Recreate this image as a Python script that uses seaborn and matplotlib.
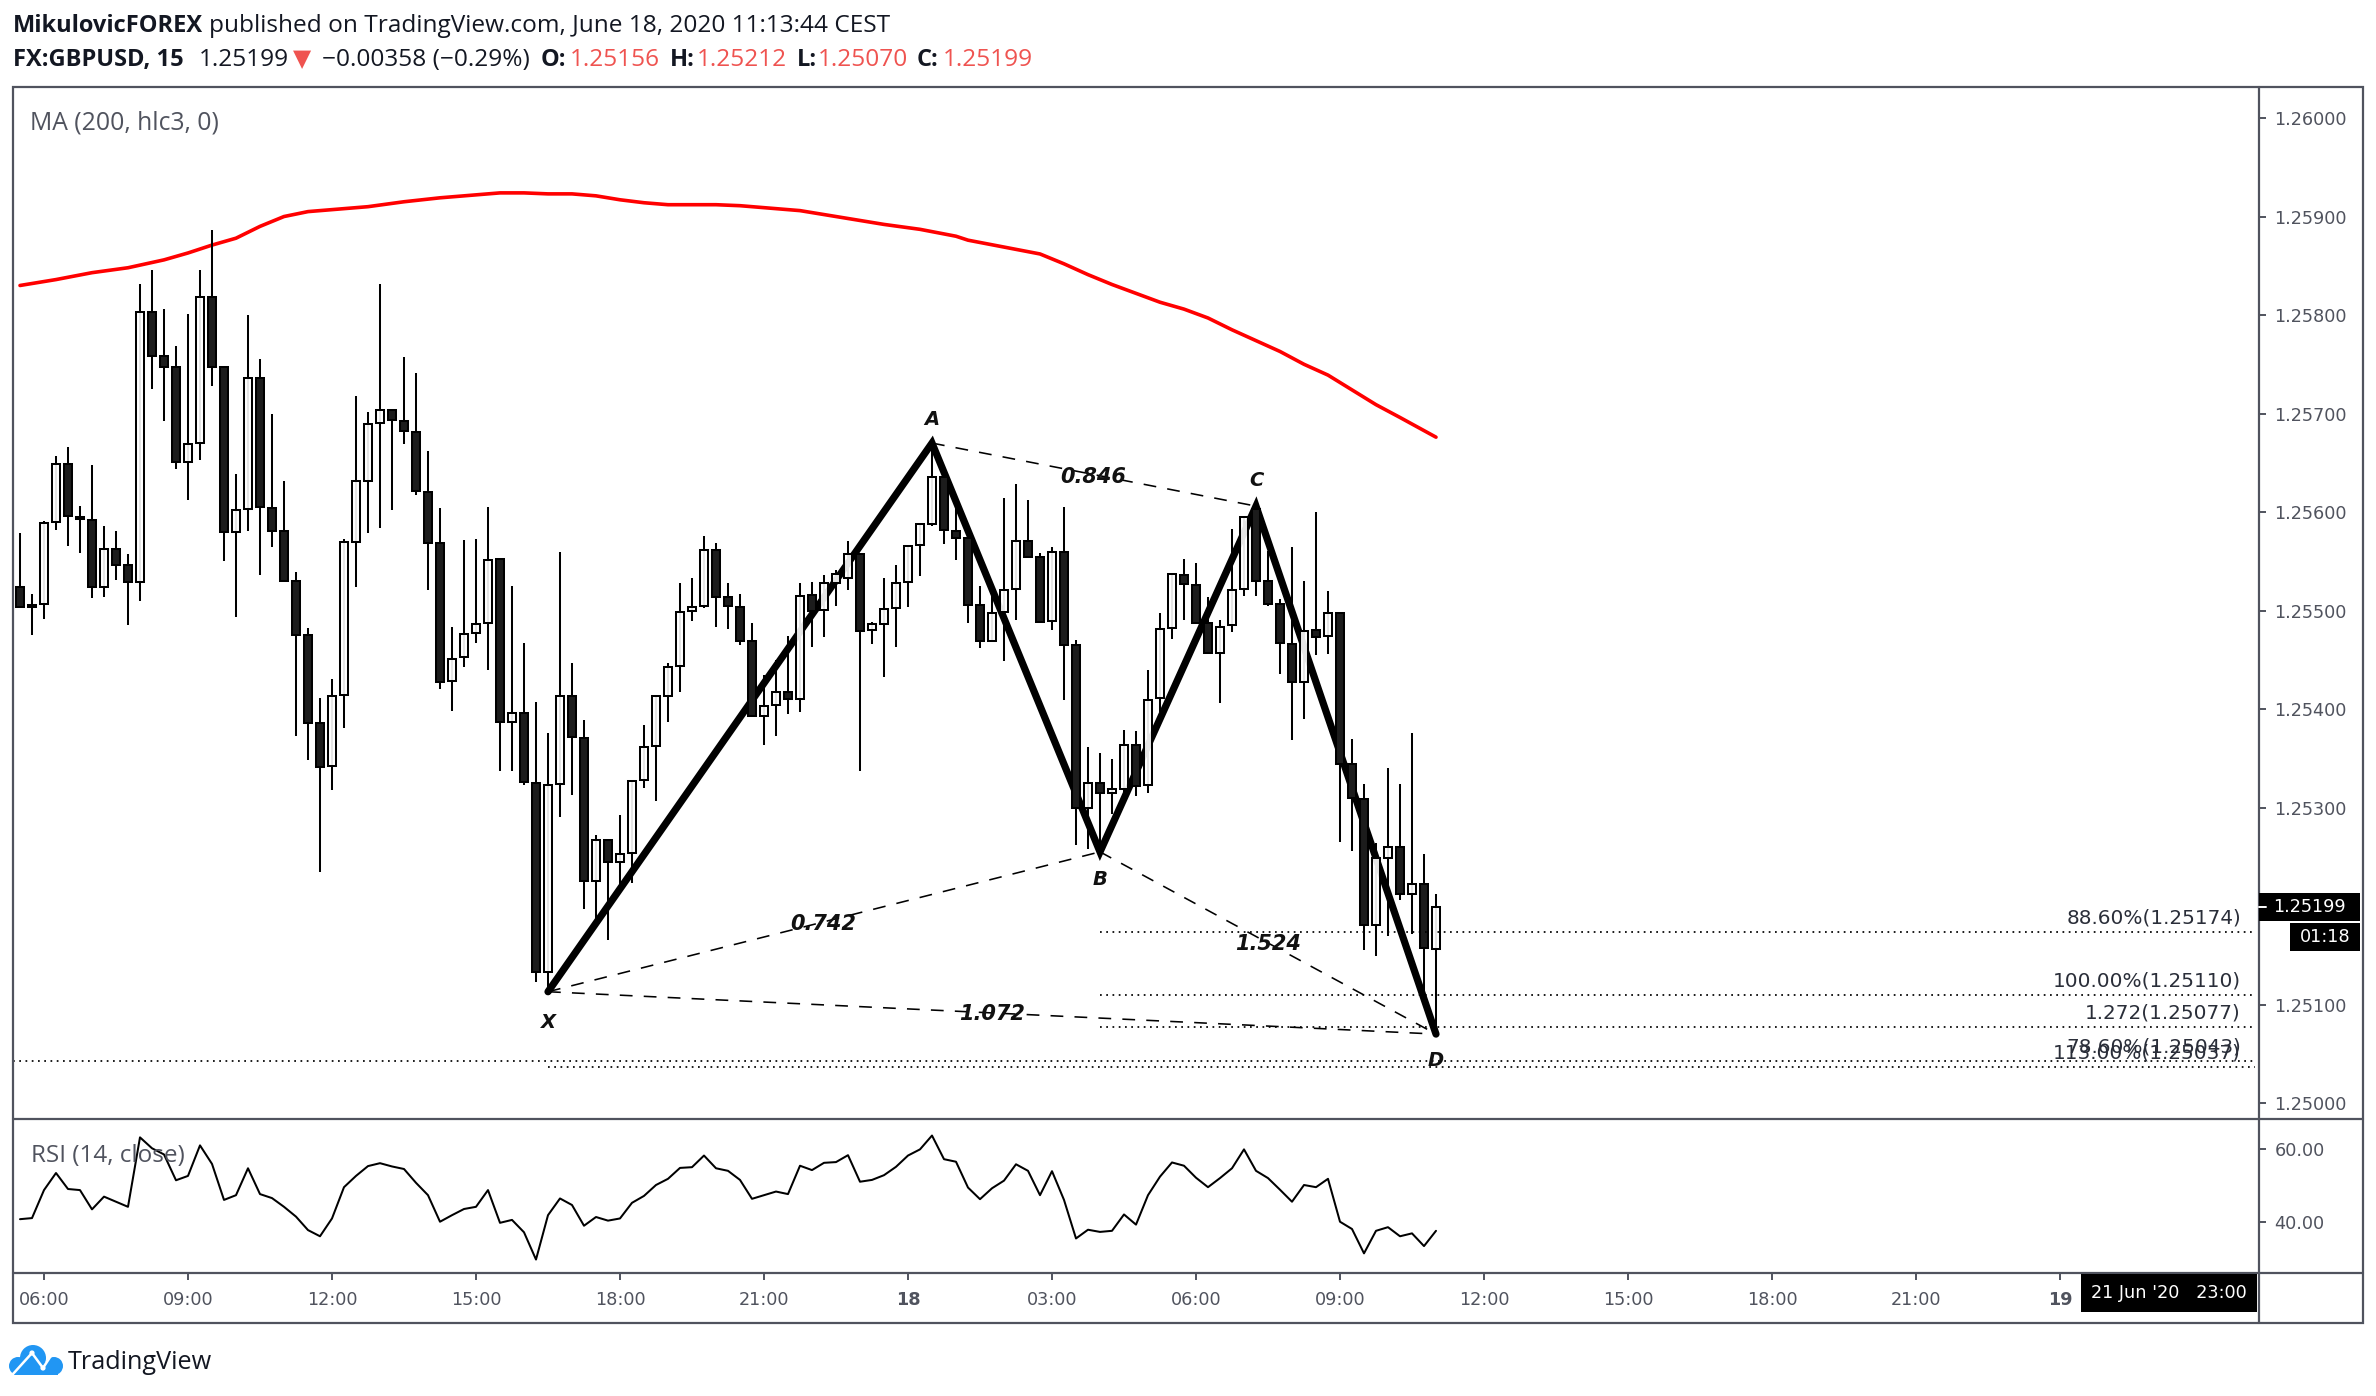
"""GBPUSD 15m candles with MA(200), XABCD pattern and RSI(14) pane."""

import matplotlib
matplotlib.use("Agg")
import matplotlib.pyplot as plt
import numpy as np
import seaborn as sns
from matplotlib.patches import Circle, Rectangle

# ── Data (prices as points above 1.25000) ─────────────────────────────
OPENS = [524, 506, 507, 590, 649, 595, 592, 524, 562, 546, 529, 803, 758, 747, 651, 670, 818, 747, 580, 603,
         736, 604, 581, 530, 475, 386, 342, 414, 570, 632, 690, 704, 692, 681, 620, 569, 428, 453, 477, 487,
         552, 387, 396, 325, 133, 324, 413, 371, 225, 267, 245, 254, 328, 362, 413, 444, 500, 505, 561, 514,
         504, 469, 393, 404, 417, 410, 516, 501, 528, 533, 557, 480, 486, 503, 529, 567, 588, 636, 581, 574,
         506, 469, 499, 522, 571, 554, 489, 559, 465, 300, 325, 315, 319, 363, 323, 411, 482, 536, 526, 487,
         457, 485, 522, 603, 530, 507, 466, 427, 480, 474, 498, 344, 309, 181, 249, 260, 212, 222, 156]
CLOSES = [504, 504, 589, 649, 596, 593, 524, 562, 546, 529, 803, 758, 747, 651, 669, 818, 747, 580, 602, 736,
          605, 581, 530, 475, 386, 341, 413, 570, 631, 689, 704, 693, 682, 621, 569, 427, 451, 476, 486, 551,
          387, 396, 326, 133, 323, 413, 372, 225, 267, 245, 253, 327, 361, 413, 443, 499, 504, 561, 514, 505,
          469, 393, 403, 417, 410, 515, 500, 528, 537, 557, 479, 486, 502, 528, 566, 588, 636, 582, 574, 506,
          469, 498, 521, 571, 554, 488, 559, 465, 300, 325, 315, 319, 363, 322, 409, 481, 537, 527, 487, 457,
          483, 521, 595, 530, 507, 467, 427, 479, 473, 498, 344, 310, 181, 249, 260, 212, 222, 157, 199]
HIGHS = [579, 517, 591, 657, 666, 606, 648, 586, 581, 557, 832, 846, 806, 769, 801, 846, 886, 747, 639, 800,
         755, 700, 631, 539, 482, 411, 430, 573, 718, 702, 831, 705, 757, 741, 662, 604, 483, 572, 573, 605,
         553, 525, 467, 407, 376, 559, 447, 389, 272, 267, 292, 328, 384, 414, 447, 528, 533, 576, 569, 528,
         517, 487, 435, 450, 474, 528, 529, 536, 541, 571, 557, 488, 533, 546, 566, 589, 667, 636, 608, 575,
         525, 519, 614, 628, 612, 558, 565, 605, 470, 361, 355, 349, 379, 378, 440, 498, 537, 552, 548, 514,
         490, 583, 595, 607, 560, 512, 564, 530, 600, 520, 498, 370, 324, 264, 340, 324, 376, 253, 212]
LOWS = [504, 475, 491, 582, 566, 558, 513, 514, 531, 485, 510, 725, 692, 644, 612, 653, 728, 550, 493, 581,
        536, 564, 529, 373, 348, 235, 318, 381, 524, 579, 584, 602, 669, 617, 521, 420, 398, 443, 467, 440,
        337, 337, 323, 123, 114, 290, 313, 197, 184, 166, 222, 223, 320, 307, 387, 417, 489, 503, 483, 481,
        465, 393, 363, 373, 395, 397, 463, 473, 505, 521, 337, 466, 433, 463, 504, 535, 586, 568, 551, 487,
        462, 469, 449, 490, 553, 487, 480, 409, 262, 258, 256, 293, 315, 312, 315, 397, 471, 490, 486, 457,
        406, 478, 515, 515, 505, 436, 369, 390, 455, 456, 265, 256, 155, 149, 170, 206, 172, 111, 70]

MA_BARS = [0, 3, 6, 9, 12, 14, 16, 18, 20, 22, 24, 26, 29, 32, 35, 38, 40, 42, 44, 46, 48, 50, 52, 54, 56, 58,
           60, 62, 65, 67, 69, 72, 75, 78, 79, 82, 85, 87, 89, 91, 93, 95, 97, 99, 101, 103, 105, 107, 109,
           111, 113, 115, 118]
MA_VALUES = [830, 836, 843, 848, 856, 863, 871, 878, 890, 900, 905, 907, 910, 915, 919, 922, 924, 924, 923, 923,
             921, 917, 914, 912, 912, 912, 911, 909, 906, 902, 898, 892, 887, 880, 876, 869, 862, 852, 841,
             831, 822, 813, 806, 797, 785, 774, 763, 750, 739, 724, 709, 696, 676]

RSI_VALUES = [40.7, 41.0, 48.7, 53.4, 49.0, 48.7, 43.4, 46.9, 45.5, 44.1, 63.2, 60.2, 58.5, 51.4, 52.6, 61.0,
              55.9, 46.0, 47.3, 54.7, 47.6, 46.5, 44.1, 41.4, 37.7, 36.0, 40.9, 49.5, 52.6, 55.3, 56.1, 55.2,
              54.5, 50.7, 47.3, 40.0, 41.8, 43.5, 44.1, 48.7, 39.7, 40.5, 37.1, 29.6, 41.8, 46.4, 44.6, 38.9,
              41.3, 40.3, 40.9, 45.2, 47.1, 50.1, 51.8, 54.8, 55.0, 58.2, 54.7, 54.0, 51.5, 46.3, 47.3, 48.3,
              47.6, 55.4, 54.2, 56.2, 56.4, 58.3, 51.0, 51.5, 52.8, 55.1, 58.2, 59.9, 63.7, 57.2, 56.5, 49.4,
              46.2, 49.2, 51.3, 55.8, 54.0, 47.3, 53.9, 46.0, 35.4, 37.8, 37.2, 37.5, 42.0, 39.2, 47.3, 52.4,
              56.3, 55.4, 52.1, 49.5, 52.0, 54.7, 59.9, 54.0, 52.0, 48.8, 45.5, 50.1, 49.5, 51.8, 40.0, 38.0,
              31.3, 37.5, 38.5, 36.0, 36.8, 33.3, 37.5]

PATTERN_BARS = [44, 76, 90, 103, 118]
PATTERN_PRICES = [1.25113, 1.25670, 1.25255, 1.25606, 1.25070]
PATTERN_NAMES = ["X", "A", "B", "C", "D"]
PATTERN_LETTER_PRICES = [1.25082, 1.25694, 1.25227, 1.25632, 1.25043]
RATIO_LABELS = ["0.742", "0.846", "1.524", "1.072"]
RATIO_BARS = [66.9, 89.4, 104.0, 81.0]
RATIO_PRICES = [1.25182, 1.25636, 1.25161, 1.25090]

LEVEL_PRICES = [1.25174, 1.25110, 1.25077, 1.25043, 1.25037]
LEVEL_LABELS = ["88.60%(1.25174)", "100.00%(1.25110)", "1.272(1.25077)", "78.60%(1.25043)", "113.00%(1.25037)"]
LEVEL_STARTS = [90, 90, 90, -0.6, 44]

PRICE_TICKS = [1.25, 1.251, 1.252, 1.253, 1.254, 1.255, 1.256, 1.257, 1.258, 1.259, 1.26]
RSI_TICKS = [40, 60]
TIME_BARS = [2, 14, 26, 38, 50, 62, 74, 86, 98, 110, 122, 134, 146, 158, 170]
TIME_LABELS = ["06:00", "09:00", "12:00", "15:00", "18:00", "21:00", "18", "03:00", "06:00", "09:00",
               "12:00", "15:00", "18:00", "21:00", "19"]

# ── Style ─────────────────────────────────────────────────────────────
W, H = 2376, 1396
FRAME = "#50535e"
DARK = "#131722"
RED = "#ef5350"
UI_FONT = "Open Sans"
AXIS_SIZE = 12.7

sns.set_theme(style="white", rc={"axes.linewidth": 0, "font.family": "DejaVu Sans"})


def _pane(left, top, right, bottom):
    return fig.add_axes([left / W, 1 - bottom / H, (right - left) / W, (bottom - top) / H])


def _axis_style(ax):
    ax.set_facecolor("none")
    sns.despine(ax=ax, left=True, right=True, top=True, bottom=True)
    ax.yaxis.tick_right()
    ax.tick_params(axis="y", right=True, length=5, width=1.4, color=FRAME, labelcolor=FRAME,
                   labelsize=AXIS_SIZE, pad=6)


fig = plt.figure(figsize=(W / 100, H / 100), dpi=100, facecolor="white")
ax = _pane(13, 87, 2259, 1119)
rsi_ax = _pane(13, 1119, 2259, 1273)

bars = np.arange(len(OPENS))
to_price = lambda pts: 1.25 + np.asarray(pts) * 1e-5
opens, closes, highs, lows = map(to_price, (OPENS, CLOSES, HIGHS, LOWS))
is_up = closes >= opens

# ── Price pane ────────────────────────────────────────────────────────
sns.lineplot(x=MA_BARS, y=to_price(MA_VALUES), ax=ax, color="#ff0000", linewidth=2.6, errorbar=None)

# pattern sits under the candles, white bodies let it through a little
sns.lineplot(x=PATTERN_BARS, y=PATTERN_PRICES, ax=ax, color="black", linewidth=5.2, sort=False,
             estimator=None, errorbar=None, zorder=2, solid_joinstyle="miter")
dashes = (0, (8, 7))
for a, b in [(0, 2), (2, 4), (0, 4), (1, 3)]:
    ax.plot([PATTERN_BARS[a], PATTERN_BARS[b]], [PATTERN_PRICES[a], PATTERN_PRICES[b]],
            color="black", lw=1.15, ls=dashes, zorder=2)

ax.vlines(bars, lows, highs, color="black", lw=1.45, zorder=3)
ax.bar(bars[is_up], (closes - opens)[is_up], bottom=opens[is_up], width=0.65, facecolor=(1, 1, 1, 0.9),
       edgecolor="black", linewidth=1.45, zorder=4)
ax.bar(bars[~is_up], (closes - opens)[~is_up], bottom=opens[~is_up], width=0.65, facecolor="#1c1c1c",
       edgecolor="black", linewidth=1.45, zorder=4)

for start, price, label in zip(LEVEL_STARTS, LEVEL_PRICES, LEVEL_LABELS):
    ax.plot([start, 186.25], [price, price], color="black", lw=1.25, ls=(0, (1, 2.6)), zorder=5)
    ax.text(185.08, price + 14e-5, label, ha="right", va="center", fontsize=14.4, color="#2a2e39", zorder=6)

for bar, price, name in zip(PATTERN_BARS, PATTERN_LETTER_PRICES, PATTERN_NAMES):
    ax.text(bar, price, name, ha="center", va="center", fontsize=14, style="italic", weight="bold",
            color="#111111", zorder=6)
for bar, price, label in zip(RATIO_BARS, RATIO_PRICES, RATIO_LABELS):
    ax.text(bar, price, label, ha="center", va="center", fontsize=15, style="italic", weight="bold",
            color="#111111", zorder=6)

ax.set_xlim(-0.583, 186.583)
ax.set_ylim(1.249838, 1.260315)
_axis_style(ax)
ax.set_xticks([])
ax.set_yticks(PRICE_TICKS, [f"{t:.5f}" for t in PRICE_TICKS])

# ── RSI pane ──────────────────────────────────────────────────────────
sns.lineplot(x=bars, y=RSI_VALUES, ax=rsi_ax, color="black", linewidth=1.45, errorbar=None)
rsi_ax.set_xlim(-0.583, 186.583)
rsi_ax.set_ylim(25.9, 68.25)
_axis_style(rsi_ax)
rsi_ax.set_yticks(RSI_TICKS, [f"{t:.2f}" for t in RSI_TICKS])
rsi_ax.set_xticks(TIME_BARS, TIME_LABELS)
rsi_ax.tick_params(axis="x", bottom=True, length=5, width=1.4, color=FRAME, labelcolor=FRAME,
                   labelsize=AXIS_SIZE, pad=8)
for tick in rsi_ax.get_xticklabels():
    if len(tick.get_text()) == 2:
        tick.set_fontweight("bold")

# ── Overlay in pixel coordinates: frame, header, tags, logo ───────────
px = fig.add_axes([0, 0, 1, 1], zorder=10)
px.set_xlim(0, W)
px.set_ylim(H, 0)
px.set_axis_off()
px.patch.set_alpha(0)

px.add_patch(Rectangle((13, 87), 2350, 1236, fill=False, edgecolor=FRAME, lw=1.6))
for y in (1119, 1273):
    px.plot([13, 2363], [y, y], color=FRAME, lw=1.6)
px.plot([2259, 2259], [87, 1323], color=FRAME, lw=1.6)


def _label(x, y, text, color=DARK, weight="normal", size=17.6, family=UI_FONT, ha="left", va="baseline"):
    px.text(x, y, text, color=color, fontweight=weight, fontsize=size, family=family, ha=ha, va=va)


_label(13, 32, "MikulovicFOREX", weight="bold", size=17)
_label(209, 32, "published on TradingView.com, June 18, 2020 11:13:44 CEST")
_label(13, 66, "FX:GBPUSD, 15", weight="bold", size=17)
_label(199, 66, "1.25199")
_label(293, 66, "▼", color=RED, family="DejaVu Sans", size=17)
_label(322, 66, "−0.00358 (−0.29%)")
for x, name in [(541, "O:"), (670, "H:"), (797, "L:"), (917, "C:")]:
    _label(x, 66, name, weight="bold", size=17)
for x, value in [(570, "1.25156"), (697, "1.25212"), (818, "1.25070"), (943, "1.25199")]:
    _label(x, 66, value, color=RED)

_label(30, 123, "MA (200, hlc3, 0)", color=FRAME, size=17.8, va="center")
_label(31, 1156, "RSI (14, close)", color=FRAME, size=17.5, va="center")

# last price, countdown and crosshair date tags
px.add_patch(Rectangle((2259, 893), 101, 28, color="black", lw=0, zorder=3))
px.plot([2259, 2266], [906.5, 906.5], color="white", lw=1.4, zorder=4)
px.text(2309, 906.5, "1.25199", color="white", fontsize=AXIS_SIZE, ha="center", va="center", zorder=4)
px.add_patch(Rectangle((2290, 923), 70, 28, color="black", lw=0, zorder=3))
px.text(2325, 937, "01:18", color="white", fontsize=AXIS_SIZE, ha="center", va="center", zorder=4)
px.add_patch(Rectangle((2081, 1274), 176, 38, color="black", lw=0, zorder=3))
px.text(2169, 1293, "21 Jun '20   23:00", color="white", fontsize=AXIS_SIZE, ha="center", va="center", zorder=4)

# TradingView logo
LOGO = "#2196f3"
for cx, cy, r in [(33, 1358, 13), (18, 1366, 9), (54, 1366, 9)]:
    px.add_patch(Circle((cx, cy), r, color=LOGO, lw=0))
px.add_patch(Rectangle((14, 1362), 44, 13, color=LOGO, lw=0))
px.plot([13, 32, 43, 56], [1374, 1353, 1368, 1348], color="white", lw=1.8)
px.add_patch(Circle((32, 1353), 2.6, color="white", lw=0))
px.add_patch(Circle((43, 1368), 2.6, color="white", lw=0))
_label(68, 1369, "TradingView", size=18.2)

fig.savefig("out.png", dpi=100, facecolor="white")
